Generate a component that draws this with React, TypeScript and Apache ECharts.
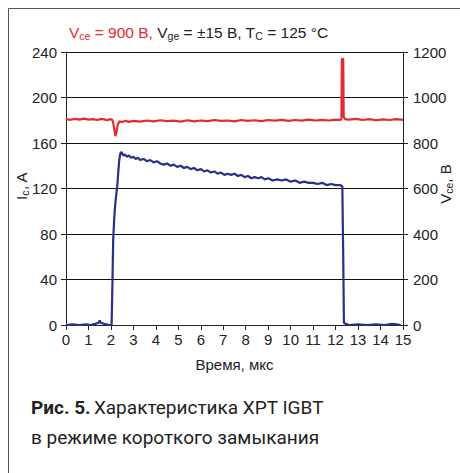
import React, { useEffect, useRef } from "react";
import * as echarts from "echarts";

// Collector current Ic (A), left axis
const currentTime = [
  0, 0.3, 0.6, 0.9, 1.1, 1.3, 1.45, 1.5, 1.55, 1.7, 1.9, 2.03, 2.07, 2.1, 2.15, 2.2, 2.28, 2.33, 2.37, 2.42,
  2.47, 2.55, 2.62, 2.7, 2.8, 2.9, 3.0, 3.1, 3.2, 3.3, 3.45, 3.6, 3.75, 3.9, 4.05, 4.2, 4.35, 4.5, 4.65, 4.8,
  4.95, 5.1, 5.25, 5.4, 5.55, 5.7, 5.85, 6.0, 6.15, 6.3, 6.45, 6.6, 6.75, 6.9, 7.05, 7.2, 7.35, 7.5, 7.65, 7.8,
  7.95, 8.1, 8.25, 8.4, 8.55, 8.7, 8.85, 9.0, 9.2, 9.4, 9.6, 9.8, 10.0, 10.2, 10.4, 10.6, 10.8, 11.0, 11.2, 11.4,
  11.6, 11.8, 12.0, 12.2, 12.3, 12.34, 12.37, 12.45, 12.6, 13.0, 13.4, 13.8, 14.2, 14.5, 14.7, 14.9,
];
const currentA = [
  0, 0.5, 0, 0.5, 0, 1, 2, 4, 2, 1, 0, 0, 40, 75, 95, 108, 122, 135, 145, 151,
  152, 149, 150, 148, 149, 147, 148, 146, 147, 145, 146, 144, 145, 143, 144, 142, 141, 142, 140, 141,
  139, 140, 138, 139, 137, 138, 136, 137, 135, 136, 134, 135, 133, 134, 132, 133, 132, 133, 131, 132,
  130, 131, 129, 130, 129, 130, 128, 129, 127, 128, 127, 128, 126, 127, 125, 126, 125, 125, 124, 125,
  123, 124, 123, 123, 122, 60, 2, 1, 0, 0.5, 0, 0.5, 0, 1, 0.5, 0,
];

// Collector-emitter voltage Vce (B), right axis
const voltageTime = [
  0, 0.2, 0.4, 0.6, 0.8, 1.0, 1.2, 1.4, 1.55, 1.7, 1.85, 1.95, 2.05, 2.1, 2.15, 2.2, 2.25, 2.3, 2.38, 2.5,
  2.65, 2.8, 3.0, 3.3, 3.6, 3.9, 4.2, 4.5, 4.8, 5.1, 5.4, 5.7, 6.0, 6.3, 6.6, 6.9, 7.2, 7.5, 7.8, 8.1,
  8.4, 8.7, 9.0, 9.3, 9.6, 9.9, 10.2, 10.5, 10.8, 11.1, 11.4, 11.7, 12.0, 12.2, 12.26, 12.28, 12.31, 12.34, 12.36, 12.42,
  12.6, 12.9, 13.2, 13.5, 13.8, 14.1, 14.4, 14.7, 15.0,
];
const voltageV = [
  905, 902, 906, 903, 907, 903, 905, 901, 906, 904, 900, 905, 903, 890, 860, 830, 850, 880, 895, 892,
  898, 893, 897, 894, 899, 895, 900, 896, 898, 894, 900, 895, 899, 896, 901, 897, 899, 895, 901, 897,
  900, 896, 901, 898, 902, 897, 901, 898, 903, 899, 902, 899, 903, 901, 905, 1165, 1172, 1168, 915, 905,
  903, 906, 901, 905, 900, 904, 901, 905, 902,
];

const leftTicks = [0, 240, 40];
const rightTicks = [0, 1200, 200];
const xTicks = [0, 15, 1];

const RED = "#e42a30";
const BLUE = "#2b2f8c";
const INK = "#222";
const FONT = "'Liberation Sans', Arial, sans-serif";
const CAPTION_FONT = "'Liberation Sans Narrow', 'Roboto', sans-serif";

export default function App() {
  const ref = useRef<HTMLDivElement>(null);
  useEffect(() => {
    if (!ref.current) return;
    const chart = echarts.init(ref.current, undefined, { renderer: "svg" });
    const sub = (color: string) => ({
      color,
      fill: color,
      fontSize: 10.5,
      lineHeight: 10,
      padding: [7, 0, 0, 0],
      fontWeight: "normal",
      fontFamily: FONT,
    });
    const main = (color: string, size = 14) => ({
      color,
      fill: color,
      fontSize: size,
      lineHeight: 17,
      fontWeight: "normal",
      fontFamily: FONT,
    });
    chart.setOption({
      animation: false,
      backgroundColor: "#fff",
      title: {
        left: 64,
        top: 19,
        text: "{r|V}{rs|ce}{r| = 900 B, }{k|V}{ks|ge}{k| = ±15 B, T}{ks|C}{k| = 125 °C}",
        textStyle: {
          fontWeight: "normal",
          rich: { r: main(RED, 15.5), rs: sub(RED), k: main(INK, 15.5), ks: sub(INK) },
        },
      },
      grid: {
        left: 66,
        right: 57,
        top: 52,
        bottom: 148,
        containLabel: false,
        outerBoundsMode: "none",
      },
      xAxis: {
        type: "value",
        min: xTicks[0],
        max: xTicks[1],
        interval: xTicks[2],
        name: "Время, мкс",
        nameLocation: "middle",
        nameGap: 32,
        nameMoveOverlap: false,
        nameTextStyle: { color: INK, fontSize: 15, fontFamily: FONT },
        axisLine: { lineStyle: { color: INK, width: 1 } },
        axisTick: { show: true, length: 5, lineStyle: { color: INK } },
        axisLabel: { color: INK, fontSize: 15, fontFamily: FONT, margin: 7 },
        splitLine: { show: false },
      },
      yAxis: [
        {
          type: "value",
          min: leftTicks[0],
          max: leftTicks[1],
          interval: leftTicks[2],
          axisLine: { show: true, lineStyle: { color: INK, width: 1 } },
          axisTick: { show: true, length: 5, lineStyle: { color: INK } },
          axisLabel: { color: INK, fontSize: 15, fontFamily: FONT, margin: 9 },
          splitLine: { show: true, lineStyle: { color: "#111", width: 1 } },
        },
        {
          type: "value",
          position: "right",
          min: rightTicks[0],
          max: rightTicks[1],
          interval: rightTicks[2],
          axisLine: { show: true, lineStyle: { color: INK, width: 1 } },
          axisTick: { show: true, length: 5, lineStyle: { color: INK } },
          axisLabel: {
            color: INK,
            fontSize: 15,
            fontFamily: FONT,
            margin: 10,
            formatter: (v: number) => String(v),
          },
          splitLine: { show: false },
        },
      ],
      series: [
        {
          type: "line",
          yAxisIndex: 1,
          data: voltageTime.map((t, i) => [t, voltageV[i]]),
          showSymbol: false,
          lineStyle: { color: RED, width: 2.2 },
          z: 3,
        },
        {
          type: "line",
          yAxisIndex: 0,
          data: currentTime.map((t, i) => [t, currentA[i]]),
          showSymbol: false,
          lineStyle: { color: BLUE, width: 2.2 },
          z: 4,
        },
      ],
      graphic: [
        {
          type: "line",
          shape: { x1: 8.5, y1: 8.5, x2: 460, y2: 8.5 },
          style: { stroke: "#555", lineWidth: 1 },
        },
        {
          type: "line",
          shape: { x1: 8.5, y1: 8.5, x2: 8.5, y2: 473 },
          style: { stroke: "#555", lineWidth: 1 },
        },
        {
          type: "text",
          x: 21,
          y: 186,
          rotation: Math.PI / 2,
          style: {
            text: "{a|I}{s|c}{a|, A}",
            align: "center",
            verticalAlign: "middle",
            rich: { a: main(INK, 15), s: sub(INK) },
          },
        },
        {
          type: "text",
          x: 445,
          y: 184,
          rotation: Math.PI / 2,
          style: {
            text: "{a|V}{s|ce}{a|, B}",
            align: "center",
            verticalAlign: "middle",
            rich: { a: main(INK, 15), s: sub(INK) },
          },
        },
        {
          type: "text",
          left: 31,
          top: 398,
          style: {
            text: "{b|Рис. 5.} {n|Характеристика XPT IGBT}\n{n|в режиме короткого замыкания}",
            rich: {
              b: { fontSize: 19, fontWeight: "bold", fontFamily: CAPTION_FONT, fill: "#222", lineHeight: 30 },
              n: { fontSize: 19, fontFamily: CAPTION_FONT, fill: "#222", lineHeight: 30 },
            },
          },
        },
      ],
    });
    return () => chart.dispose();
  }, []);
  return (
    <div
      ref={ref}
      style={{ position: "absolute", left: 0, top: 0, width: 460, height: 473 }}
    />
  );
}
